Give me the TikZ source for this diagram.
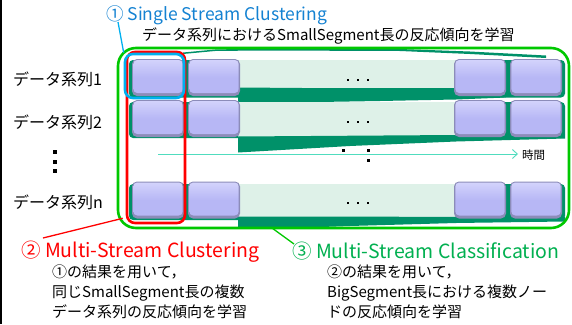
\documentclass[tikz,border=0pt]{standalone}
\usepackage{fontspec}
\setmainfont{Noto Sans CJK JP}
\usetikzlibrary{arrows.meta}
\definecolor{dkg}{RGB}{0,145,105}
\definecolor{ltg}{RGB}{222,241,232}
\definecolor{boxfill}{RGB}{183,183,245}
\definecolor{boxlight}{RGB}{212,212,252}
\definecolor{boxdark}{RGB}{140,140,185}
\definecolor{gline}{RGB}{0,200,0}
\definecolor{rline}{RGB}{255,0,0}
\definecolor{bline}{RGB}{0,176,240}
\definecolor{tblue}{RGB}{20,130,210}
\definecolor{tgreen}{RGB}{0,176,80}
\definecolor{teal}{RGB}{80,220,190}
\begin{document}
\begin{tikzpicture}[x=1pt,y=-1pt,
  pbox/.style={rounded corners=5pt, minimum width=52pt, minimum height=37pt, inner sep=0pt, fill=boxdark,
    path picture={\fill[rounded corners=4pt, top color=boxlight, bottom color=boxfill, middle color=boxfill]
      ([xshift=1.3pt,yshift=-1pt]path picture bounding box.north west) rectangle
      ([xshift=-1.3pt,yshift=3pt]path picture bounding box.south east);}},
  jtext/.style={font=\fontsize{15}{20}\selectfont, inner sep=0pt},
  ttext/.style={font=\fontsize{17.5}{21}\selectfont, inner sep=0pt},
  btext/.style={font=\fontsize{19.5}{23}\selectfont, inner sep=0pt},
]
\useasboundingbox (0,0) rectangle (572,324);
\fill[white] (0,0) rectangle (572,324);
\draw[line width=1.5pt] (0.75,0) -- (0.75,324);

% slabs, clipped to the green frame
\begin{scope}
\clip[rounded corners=18pt] (118,48) rectangle (569,228);
% thin top wedge
\fill[dkg] (183,52.5) -- (215,49.5) -- (260,48.5) -- (400,49) -- (470,51.5) -- (546,55.5) -- (546,58) -- (470,54) -- (400,51) -- (260,50.5) -- (215,51) -- (183,54) -- cycle;
% row 1
\fill[dkg, rounded corners=4pt] (129,60) rectangle (565,97.5);
\fill[ltg] (238,60) rectangle (456,88);
\fill[dkg] (238,87.5) -- (430,89) -- (456,92) -- (506,97.5) -- (456,99.5) -- (380,101) -- (300,102.3) -- (238,103.5) -- cycle;
% row 2
\fill[dkg, rounded corners=4pt] (129,102) rectangle (565,138);
\fill[ltg] (238,102) rectangle (456,137);
\fill[dkg] (238,136.5) -- (456,135) -- (565,134) -- (565,138.5) -- (456,141.5) -- (350,146) -- (238,152.5) -- cycle;
% row n
\fill[dkg, rounded corners=4pt] (129,184) rectangle (565,220);
\fill[ltg] (238,184) rectangle (456,217);
\fill[dkg] (238,216.5) -- (565,217) -- (565,221.5) -- (456,223) -- (350,226) -- (238,230) -- cycle;
\end{scope}

% boxes
\foreach \r/\y in {1/77.5, 2/118.5, n/200} {
  \node[pbox] (b\r a) at (158,\y) {};
  \node[pbox] (b\r b) at (214,\y) {};
  \node[pbox] (b\r c) at (480,\y) {};
  \node[pbox] (b\r d) at (536,\y) {};
}

% horizontal ellipses
\foreach \y in {80,122,203} {
  \foreach \x in {348,358,368} {\fill (\x-1.3,\y-1.3) rectangle (\x+1.3,\y+1.3);}
}
% scattered dots in middle
\fill (343-1.5,150-1.5) rectangle (343+1.5,150+1.5);
\fill (368-1.5,150-1.5) rectangle (368+1.5,150+1.5);
\fill (368-1.5,160-1.5) rectangle (368+1.5,160+1.5);

% time arrow
\coordinate (tstart) at (158,154);
\node[font=\fontsize{11.5}{13}\selectfont, anchor=west, inner sep=0pt] (time) at (522,155.5) {時間};
\draw[teal, line width=0.9pt, -{Straight Barb[length=5pt,width=9pt]}] (tstart) -- ([xshift=-4pt]time.west |- tstart);

% frames
\draw[gline, line width=2.6pt, rounded corners=18pt] (118,48) rectangle (569,228);
\node[draw=rline, line width=2.6pt, rounded corners=8pt, minimum width=58pt, minimum height=171pt, inner sep=0pt] (redbox) at (156,137.5) {};
\node[draw=bline, line width=2.6pt, rounded corners=8pt, minimum width=59pt, minimum height=44pt, inner sep=0pt] (bluebox) at (154.5,76) {};

% row labels
\node[jtext, font=\fontsize{16}{20}\selectfont, anchor=west] (l1) at (13,79) {データ系列1};
\node[jtext, font=\fontsize{16}{20}\selectfont, anchor=west] (l2) at (13,122) {データ系列2};
\node[jtext, font=\fontsize{16}{20}\selectfont, anchor=west] (ln) at (13,202) {データ系列n};
\foreach \y in {152,162,171} {\fill (55-1.7,\y-1.7) rectangle (55+1.7,\y+1.7);}

% titles
\node[ttext, text=tblue, anchor=west] (t1) at (106,15) {① Single Stream Clustering};
\node[jtext, anchor=west] (s1) at (142,36) {データ系列におけるSmallSegment長の反応傾向を学習};
\node[btext, text=rline, anchor=west] (t2) at (21,251.5) {② Multi-Stream Clustering};
\node[jtext, anchor=north west, align=left] (s2) at (52,265) {①の結果を用いて，\\同じSmallSegment長の複数\\データ系列の反応傾向を学習};
\node[btext, text=tgreen, anchor=west] (t3) at (292,251.5) {③ Multi-Stream Classification};
\node[jtext, anchor=north west, align=left] (s3) at (327,265) {②の結果を用いて，\\BigSegment長における複数ノー\\ドの反応傾向を学習};

% leader lines
\coordinate (c1) at (118,22);
\draw[bline, line width=1.3pt] (c1) -- (bluebox.north west);
\coordinate (c2) at (43,238);
\draw[rline, line width=1.3pt] (c2) -- ([xshift=-3pt,yshift=6pt]redbox.south west);
\coordinate (c3) at (294,244);
\draw[gline, line width=1.3pt] (c3) -- (272,228);
\end{tikzpicture}
\end{document}
